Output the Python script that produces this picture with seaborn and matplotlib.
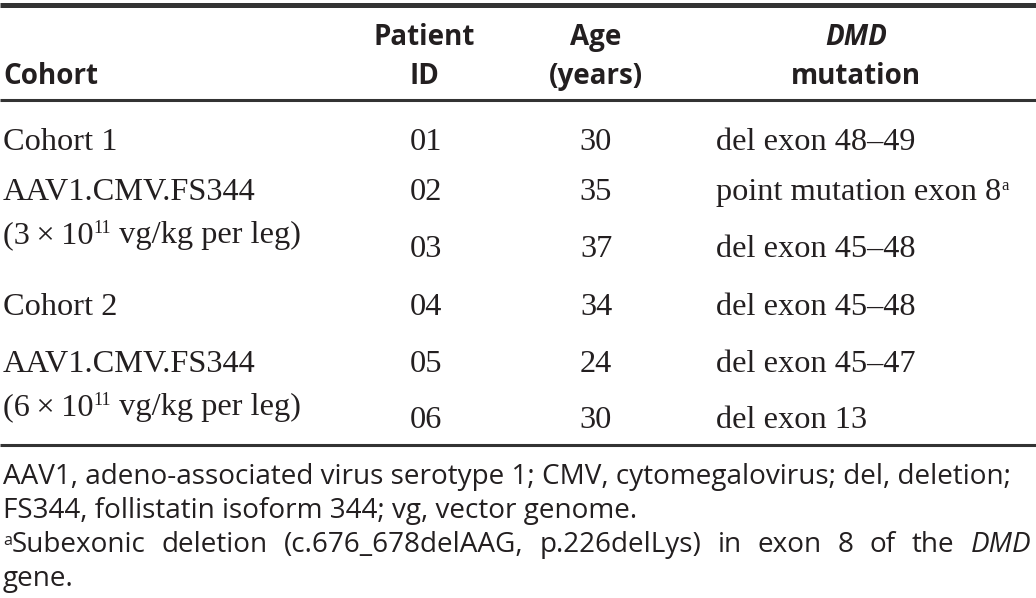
import matplotlib
matplotlib.use("Agg")
import matplotlib.pyplot as plt
import seaborn as sns

# table content
header_top = ["", "Patient", "Age", "DMD"]
header_bottom = ["Cohort", "ID", "(years)", "mutation"]
patient_ids = ["01", "02", "03", "04", "05", "06"]
ages = [30, 35, 37, 34, 24, 30]
mutations = ["del exon 48\u201349", "point mutation exon 8", "del exon 45\u201348",
             "del exon 45\u201348", "del exon 45\u201347", "del exon 13"]
mutation_marks = ["", "a", "", "", "", ""]
cohort_names = ["Cohort 1", "Cohort 2"]
cohort_vectors = ["AAV1.CMV.FS344", "AAV1.CMV.FS344"]
cohort_doses = ["3", "6"]
footnote_1 = "AAV1, adeno-associated virus serotype 1; CMV, cytomegalovirus; del, deletion;"
footnote_2 = "FS344, follistatin isoform 344; vg, vector genome."
footnote_a = ["Subexonic", "deletion", "(c.676_678delAAG,", "p.226delLys)", "in",
              "exon", "8", "of", "the", "DMD"]
footnote_a_end = "gene."

sns.set_theme(style="white")
plt.rcParams["font.family"] = ["Liberation Serif", "DejaVu Serif"]

ink = "#231f20"
rule = "#333333"
serif = dict(family=["Liberation Serif", "DejaVu Serif"], size=23.3, color=ink)
bold = dict(family=["Open Sans", "DejaVu Sans"], size=20, weight="bold", color=ink)
note = dict(family=["Open Sans", "DejaVu Sans"], size=17.5, color=ink)

fig = plt.figure(figsize=(10.36, 5.98), dpi=100)
ax = fig.add_axes([0, 0, 1, 1])
ax.set_xlim(0, 1036)
ax.set_ylim(598, 0)
ax.axis("off")
renderer = fig.canvas.get_renderer()


def width(t):
    return t.get_window_extent(renderer).width


def runs(x, y, parts):
    # parts: (text, props, raise)
    for txt, props, dy in parts:
        t = ax.text(x, y - dy, txt, ha="left", va="baseline", **props)
        x += width(t)
    return x


# rules
ax.hlines(4.5, 0, 1036, color=rule, lw=3.6)
ax.hlines(99.5, 0, 1036, color=rule, lw=2.2)
ax.hlines(445, 0, 1036, color=rule, lw=2.2)

# header
col_x = [3, 424, 596, 856]
col_ha = ["left", "center", "center", "center"]
for i in range(4):
    style = dict(bold)
    if header_top[i] == "DMD":
        style["style"] = "italic"
    ax.text(col_x[i], 45, header_top[i], ha=col_ha[i], va="baseline", **style)
    ax.text(col_x[i], 84, header_bottom[i], ha=col_ha[i], va="baseline", **bold)

# body rows
row_y = [150, 200, 257, 315, 372, 428]
for i in range(len(patient_ids)):
    ax.text(426, row_y[i], patient_ids[i], ha="center", va="baseline", **serif)
    ax.text(596, row_y[i], str(ages[i]), ha="center", va="baseline", **serif)
    sup = dict(serif, size=12)
    runs(716, row_y[i], [(mutations[i], serif, 0), (mutation_marks[i], sup, 10)])

# cohort column
sup = dict(serif, size=13)
for k in range(2):
    ax.text(3, row_y[3 * k], cohort_names[k], ha="left", va="baseline", **serif)
    ax.text(3, row_y[3 * k + 1], cohort_vectors[k], ha="left", va="baseline", **serif)
    runs(3, row_y[3 * k + 1] + 43,
         [("(" + cohort_doses[k] + "\u2009\u00d7\u200910", serif, 0), ("11", sup, 10),
          (" vg/kg per leg)", serif, 0)])

# footnotes: fit the first line to the text block width
t1 = ax.text(3, 484, footnote_1, ha="left", va="baseline", **note)
note["size"] = note["size"] * 1008 / width(t1)
t1.set_fontsize(note["size"])
ax.text(3, 518, footnote_2, ha="left", va="baseline", **note)
x0 = runs(3, 552, [("a", dict(note, size=11.5), 7)])
words = []
for w in footnote_a:
    props = dict(note)
    if w == "DMD":
        props["style"] = "italic"
    words.append(ax.text(0, 552, w, ha="left", va="baseline", **props))
total = sum(width(t) for t in words)
gap = (1031 - x0 - total) / (len(words) - 1)
x = x0
for t in words:
    t.set_x(x)
    x += width(t) + gap
ax.text(3, 586, footnote_a_end, ha="left", va="baseline", **note)

fig.savefig("out.png", dpi=100)
